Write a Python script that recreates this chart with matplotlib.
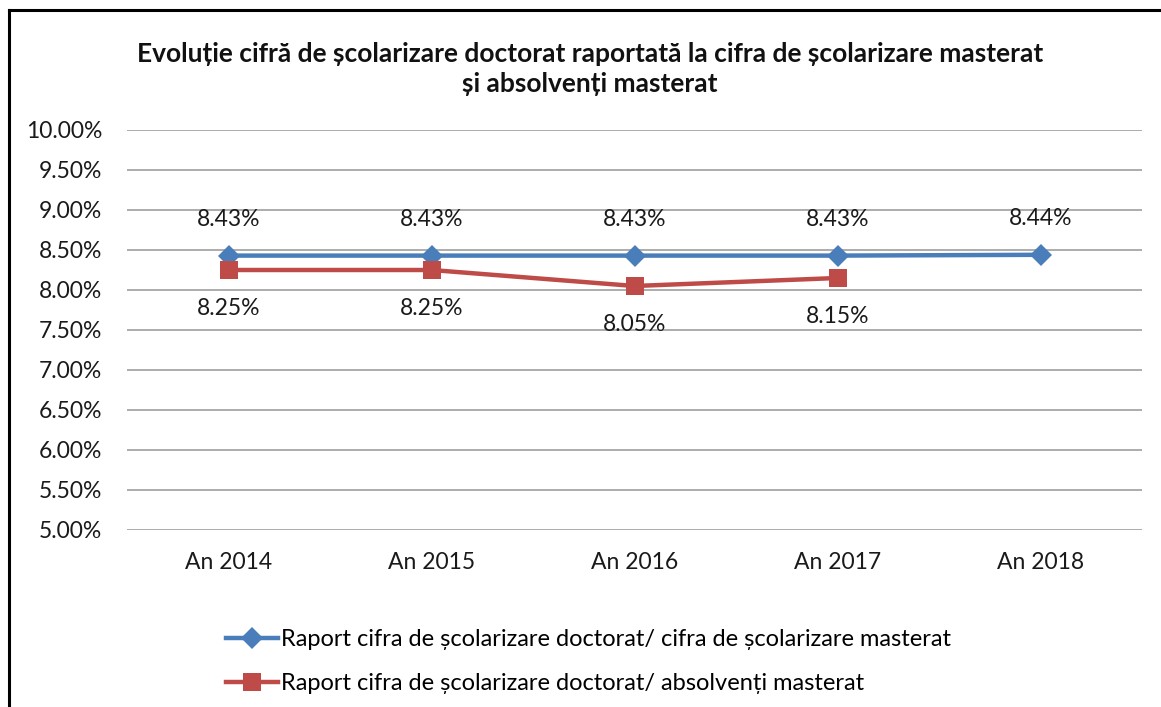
import numpy as np
import matplotlib
matplotlib.use('Agg')
import matplotlib.pyplot as plt
from matplotlib.lines import Line2D
from matplotlib.ticker import FuncFormatter

plt.rcParams['font.family'] = ['Lato', 'DejaVu Sans']

# Data
years = ['An 2014', 'An 2015', 'An 2016', 'An 2017', 'An 2018']
raport_masterat = [8.43, 8.43, 8.43, 8.43, 8.44]
raport_absolventi = [8.25, 8.25, 8.05, 8.15]
label_masterat = 'Raport cifra de școlarizare doctorat/ cifra de școlarizare masterat'
label_absolventi = 'Raport cifra de școlarizare doctorat/ absolvenți masterat'
title = ('Evoluție cifră de școlarizare doctorat raportată la cifra de școlarizare masterat\n'
         'și absolvenți masterat')

blue = '#4A7EBB'
red = '#BE4B48'

W, H = 1161, 707
fig = plt.figure(figsize=(W / 100, H / 100), dpi=100)
ax = fig.add_axes([127 / W, 1 - 530 / H, 1015 / W, 400 / H])

x = np.arange(len(years))
ax.plot(x, raport_masterat, color=blue, lw=3.2, marker='D', ms=11,
        markeredgewidth=0, label=label_masterat, zorder=3)
ax.plot(x[:len(raport_absolventi)], raport_absolventi, color=red, lw=3.2,
        marker='s', ms=13, markeredgewidth=0, label=label_absolventi, zorder=3)

fs = 16.5
for xi, v in zip(x, raport_masterat):
    ax.annotate('%.2f%%' % v, (xi, v), xytext=(0, 26), textcoords='offset points',
                ha='center', va='center', fontsize=fs, color='#1a1a1a')
for xi, v in zip(x, raport_absolventi):
    ax.annotate('%.2f%%' % v, (xi, v), xytext=(0, -28), textcoords='offset points',
                ha='center', va='center', fontsize=fs, color='#1a1a1a')

ax.set_xlim(-0.5, len(years) - 0.5)
ax.set_ylim(5.0, 10.0)
ax.set_yticks(np.arange(5.0, 10.01, 0.5))
ax.yaxis.set_major_formatter(FuncFormatter(lambda v, p: '%.2f%%' % v))
ax.set_xticks(x)
ax.set_xticklabels(years)
ax.tick_params(axis='both', length=0, labelsize=fs, colors='#1a1a1a')
ax.tick_params(axis='y', pad=18)
ax.tick_params(axis='x', pad=16)
ax.grid(axis='y', color='#A6A6A6', lw=1.3)
ax.set_axisbelow(True)
for s in ax.spines.values():
    s.set_visible(False)

fig.text(590 / W, 1 - 69 / H, title, ha='center', va='center', fontsize=19,
         fontweight='bold', linespacing=1.28, color='#111111')

fig.legend(loc='upper left', bbox_to_anchor=(214 / W, 1 - 617 / H), frameon=False,
           fontsize=17, handlelength=2.2, handletextpad=0.15, labelspacing=1.0,
           borderpad=0)

# chart border (left and top visible in the crop)
fig.add_artist(Line2D([8.5 / W, 8.5 / W], [0, 1 - 10 / H], color='black', lw=2.2))
fig.add_artist(Line2D([8.5 / W, 1], [1 - 10 / H, 1 - 10 / H], color='black', lw=2.2))

fig.savefig('out.png', dpi=100)
